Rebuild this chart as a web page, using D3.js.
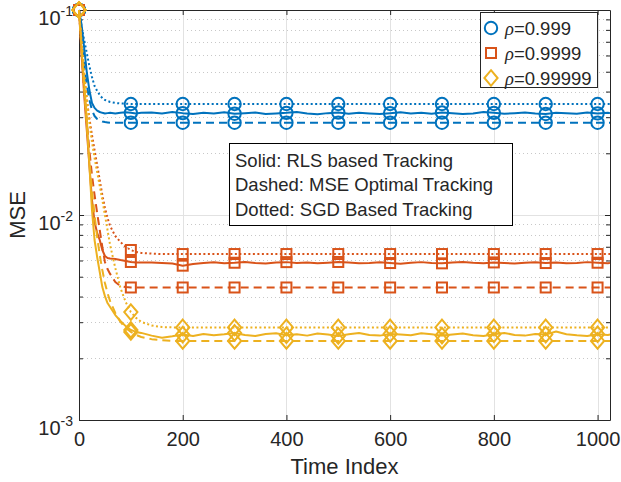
<!DOCTYPE html>
<html><head><meta charset="utf-8">
<script src="https://cdn.jsdelivr.net/npm/d3@7"></script>
<style>
body{margin:0;background:#fff}
svg{display:block}
text{font-family:"Liberation Sans",Arial,Helvetica,sans-serif;fill:#262626}
</style>
</head><body>
<svg id="c" width="621" height="482"></svg>
<script>
// ---------- data ----------
const tSmooth = [0,5,10,15,20,25,30,35,40,45,50,55,60,70,80,90,100,110,120,140,160,180,200,300,400,500,600,700,800,900,1000,1024];
const tSolid = [0,5,10,15,20,25,30,35,40,45,50,55,60,70,80,90,100,110,120,
  140,160,180,200,220,240,260,280,300,320,340,360,380,400,420,440,460,480,500,520,540,560,580,600,
  620,640,660,680,700,720,740,760,780,800,820,840,860,880,900,920,940,960,980,1000,1020,1024];

// rho = 0.999
const rlsBlue = [0.1,0.0845,0.0653,0.0498,0.0407,0.0352,0.0333,0.0323,0.0318,0.0315,0.0313,0.0314,0.0315,
  0.0313,0.0315,0.0317,0.0315,0.0313,0.0315,
  0.0316,0.0313,0.0318,0.0314,0.0311, 0.0315,0.0313,0.0317,0.0312,0.0314,
  0.0316,0.0311,0.0313,0.0315,0.0318, 0.0313,0.0310,0.0314,0.0316,0.0312,
  0.0315,0.0313,0.0311,0.0314,0.0317, 0.0313,0.0315,0.0312,0.0316,0.0314,
  0.0311,0.0313,0.0318,0.0315,0.0312, 0.0314,0.0316,0.0313,0.0311,0.0315,
  0.0314,0.0312,0.0316,0.0313,0.0315, 0.0314];
const mseBlue = [0.1,0.0714,0.0539,0.0431,0.0364,0.0325,0.0304,0.0294,0.0289,0.0286,0.0284,0.0283,0.0282,
  0.0282,0.0282,0.0282,0.0282,0.0282,0.0282, 0.0282,0.0282,0.0282,0.0282,
  0.0282,0.0282,0.0282,0.0282,0.0282,0.0282,0.0282,0.0282, 0.0282];
const sgdBlue = [0.1,0.0826,0.0714,0.0617,0.0533,0.0471,0.0426,0.0403,0.0385,0.0372,0.0364,0.0360,0.0356,
  0.0352,0.0350,0.0349,0.0348,0.0348,0.0348, 0.0348,0.0348,0.0348,0.0348,
  0.0348,0.0348,0.0348,0.0348,0.0348,0.0348,0.0348,0.0348, 0.0348];

// rho = 0.9999
const rlsRed = [0.1,0.0603,0.0385,0.0260,0.01754,0.01184,0.00924,0.00818,0.00755,0.00675,0.00631,0.00617,0.00614,
  0.00610,0.00603,0.00597,0.00590,0.00587,0.00587,
  0.00586,0.00583,0.00580,0.00566,0.00576, 0.00584,0.00588,0.00582,0.00585,0.00590,
  0.00584,0.00580,0.00586,0.00589,0.00583, 0.00587,0.00581,0.00585,0.00590,0.00586,
  0.00582,0.00584,0.00588,0.00583,0.00579, 0.00585,0.00589,0.00584,0.00581,0.00586,
  0.00590,0.00585,0.00582,0.00587,0.00583, 0.00580,0.00585,0.00588,0.00583,0.00586,
  0.00581,0.00584,0.00589,0.00585,0.00582, 0.00584];
const mseRed = [0.1,0.0638,0.0407,0.0284,0.02076,0.01567,0.01252,0.01023,0.00845,0.00698,0.00590,0.00545,0.00516,
  0.00471,0.00450,0.00445,0.00443,0.00443,0.00443, 0.00443,0.00443,0.00443,0.00443,
  0.00443,0.00443,0.00443,0.00443,0.00443,0.00443,0.00443,0.00443, 0.00443];
const sgdRed = [0.1,0.0675,0.0482,0.0364,0.0297,0.02456,0.02076,0.01754,0.01482,0.01252,0.01082,0.00967,0.00884,
  0.00790,0.00738,0.00698,0.00675,0.00660,0.00653, 0.00648,0.00645,0.00645,0.00645,
  0.00645,0.00645,0.00645,0.00645,0.00645,0.00645,0.00645,0.00645, 0.00645];

// rho = 0.99999
const rlsYellow = [0.1,0.0638,0.0431,0.0291,0.01754,0.01058,0.00755,0.00624,0.00527,0.00445,0.00402,0.00372,0.00356,
  0.00325,0.00304,0.00287,0.00275,0.00269,0.00266,
  0.00258,0.00252,0.00256,0.00261,0.00257, 0.00263,0.00259,0.00262,0.00266,0.00260,
  0.00257,0.00263,0.00265,0.00259,0.00262, 0.00258,0.00264,0.00261,0.00257,0.00262,
  0.00266,0.00260,0.00258,0.00263,0.00261, 0.00259,0.00265,0.00262,0.00258,0.00261,
  0.00264,0.00259,0.00257,0.00262,0.00266, 0.00260,0.00258,0.00263,0.00261,0.00270,
  0.00262,0.00259,0.00257,0.00262,0.00260, 0.00261];
const mseYellow = [0.1,0.0653,0.0416,0.0275,0.01855,0.01324,0.0100,0.00781,0.00638,0.00539,0.00466,0.00416,0.00380,
  0.00333,0.00301,0.00281,0.00269,0.00260,0.00254, 0.00248,0.00245,0.00243,0.00243,
  0.00243,0.00243,0.00243,0.00243,0.00243,0.00243,0.00243,0.00243, 0.00243];
const sgdYellow = [0.1,0.0698,0.0498,0.0372,0.0284,0.0227,0.01897,0.01621,0.01385,0.01184,0.0100,0.00845,0.00714,
  0.00551,0.00440,0.00376,0.00336,0.00315,0.00301, 0.00289,0.00284,0.00283,0.00283,
  0.00283,0.00283,0.00283,0.00283,0.00283,0.00283,0.00283,0.00283, 0.00283];

const markerTimes = [0,100,200,300,400,500,600,700,800,900,1000];
const rhoValues = ["0.999","0.9999","0.99999"];
const colors = ["#0072BD","#D95319","#EDB120"];
const xTicks = [0,200,400,600,800,1000];
const yMajor = [1e-3,1e-2,1e-1];
const yExponents = ["-3","-2","-1"];
const noteLines = ["Solid: RLS based Tracking","Dashed: MSE Optimal Tracking","Dotted: SGD Based Tracking"];

// ---------- layout ----------
const L=79, R=610, T=10, B=420;
const svg = d3.select("#c");
const x = d3.scaleLinear().domain([0,1024]).range([L,R]);
const y = d3.scaleLog().domain([1e-3,1e-1]).range([B,T]);
const ink = "#262626";

// grid
const minorVals = y.ticks().filter(v => !yMajor.some(m => Math.abs(m - v) / m < 1e-9));
const grid = svg.append("g");
grid.selectAll(".gm").data(minorVals).join("line")
  .attr("x1",L).attr("x2",R).attr("y1",d=>Math.round(y(d))+0.5).attr("y2",d=>Math.round(y(d))+0.5)
  .attr("stroke","#c8c8c8").attr("stroke-width",1).attr("stroke-dasharray","1,3");
grid.selectAll(".gy").data([1e-2]).join("line")
  .attr("x1",L).attr("x2",R).attr("y1",d=>Math.round(y(d))+0.5).attr("y2",d=>Math.round(y(d))+0.5)
  .attr("stroke","#e2e2e2").attr("stroke-width",1);
grid.selectAll(".gx").data(xTicks).join("line")
  .attr("y1",T).attr("y2",B).attr("x1",d=>Math.round(x(d))+0.5).attr("x2",d=>Math.round(x(d))+0.5)
  .attr("stroke","#e2e2e2").attr("stroke-width",1);

// axes
function style(g){ g.select(".domain").attr("stroke",ink); g.selectAll(".tick line").attr("stroke",ink); g.attr("font-family",null).attr("font-size",null); }
const gx = svg.append("g").attr("transform",`translate(0,${B})`)
  .call(d3.axisBottom(x).tickValues(xTicks).tickSizeInner(-5).tickSizeOuter(0).tickPadding(12).tickFormat(d3.format("d")));
style(gx);
gx.selectAll(".tick text").attr("font-size",20).attr("fill",ink);
svg.append("g").attr("transform",`translate(0,${T})`)
  .call(d3.axisTop(x).tickValues(xTicks).tickSizeInner(-5).tickSizeOuter(0).tickFormat(()=>"")).call(style);

const gy = svg.append("g").attr("transform",`translate(${L},0)`)
  .call(d3.axisLeft(y).tickValues(yMajor).tickSizeInner(-5).tickSizeOuter(0).tickFormat(()=>""));
style(gy);
gy.selectAll(".tick text").each(function(d,i){
  const t = d3.select(this).attr("x",-6).attr("dy",null).attr("y",14).attr("font-size",20).attr("fill",ink).text("10");
  t.append("tspan").attr("dy",-9).attr("font-size",14).text(yExponents[i]);
});
svg.append("g").attr("transform",`translate(${L},0)`)
  .call(d3.axisLeft(y).tickValues(minorVals).tickSizeInner(-4).tickSizeOuter(0).tickFormat(()=>""))
  .call(g=>g.select(".domain").remove()).call(style);
svg.append("g").attr("transform",`translate(${R},0)`)
  .call(d3.axisRight(y).tickValues(yMajor).tickSizeInner(-5).tickSizeOuter(0).tickFormat(()=>"")).call(style);
svg.append("g").attr("transform",`translate(${R},0)`)
  .call(d3.axisRight(y).tickValues(minorVals).tickSizeInner(-4).tickSizeOuter(0).tickFormat(()=>""))
  .call(g=>g.select(".domain").remove()).call(style);

// axis labels
svg.append("text").attr("x",(L+R)/2).attr("y",474).attr("text-anchor","middle").attr("font-size",22).text("Time Index");
svg.append("text").attr("transform",`translate(25,${(T+B)/2}) rotate(-90)`).attr("text-anchor","middle").attr("font-size",22).text("MSE");

// ---------- series ----------
const series = [
  {t:tSolid, v:rlsBlue, c:0, dash:null},
  {t:tSmooth, v:mseBlue, c:0, dash:"8,5"},
  {t:tSmooth, v:sgdBlue, c:0, dash:"2,2.5"},
  {t:tSolid, v:rlsRed, c:1, dash:null},
  {t:tSmooth, v:mseRed, c:1, dash:"8,5"},
  {t:tSmooth, v:sgdRed, c:1, dash:"2,2.5"},
  {t:tSolid, v:rlsYellow, c:2, dash:null},
  {t:tSmooth, v:mseYellow, c:2, dash:"8,5"},
  {t:tSmooth, v:sgdYellow, c:2, dash:"2,2.5"}
];
const line = d3.line().x(d=>x(d[0])).y(d=>y(d[1]));

function drawMarker(g, kind, cx, cy, col){
  if(kind===0){
    g.append("circle").attr("cx",cx).attr("cy",cy).attr("r",6.2)
      .attr("fill","none").attr("stroke",col).attr("stroke-width",2);
  } else if(kind===1){
    g.append("rect").attr("x",cx-5).attr("y",cy-5).attr("width",10).attr("height",10)
      .attr("fill","none").attr("stroke",col).attr("stroke-width",2);
  } else {
    g.append("path").attr("d",`M${cx},${cy-7.8}L${cx+6.6},${cy}L${cx},${cy+7.8}L${cx-6.6},${cy}Z`)
      .attr("fill","none").attr("stroke",col).attr("stroke-width",2);
  }
}

const plot = svg.append("g");
series.forEach(s=>{
  const pts = s.t.map((tt,i)=>[tt, s.v[i]]);
  plot.append("path").attr("d",line(pts)).attr("fill","none")
    .attr("stroke",colors[s.c]).attr("stroke-width",2)
    .attr("stroke-dasharray",s.dash).attr("stroke-linejoin","round");
  const mg = plot.append("g");
  markerTimes.forEach(mt=>{
    const i = s.t.indexOf(mt);
    drawMarker(mg, s.c, x(mt), y(s.v[i]), colors[s.c]);
  });
});

// ---------- legend ----------
const lg = svg.append("g");
lg.append("rect").attr("x",480.5).attr("y",12.5).attr("width",117).attr("height",75)
  .attr("fill","#fff").attr("stroke",ink).attr("stroke-width",1);
rhoValues.forEach((r,i)=>{
  const cy = 28 + i*25;
  drawMarker(lg, i, 491, cy, colors[i]);
  const tx = lg.append("text").attr("x",505).attr("y",cy+7).attr("font-size",18.5).attr("fill","#000");
  tx.append("tspan").attr("font-style","italic").attr("font-family","Liberation Serif").text("\u03C1");
  tx.append("tspan").text("=" + r);
});

// ---------- annotation box ----------
const nb = svg.append("g");
nb.append("rect").attr("x",229.5).attr("y",143.5).attr("width",283).attr("height",82)
  .attr("fill","#fff").attr("stroke","#000").attr("stroke-width",1);
noteLines.forEach((s,i)=>{
  nb.append("text").attr("x",235).attr("y",166.5 + i*24.5).attr("font-size",18.5).attr("fill","#000").text(s);
});
</script>
</body></html>
